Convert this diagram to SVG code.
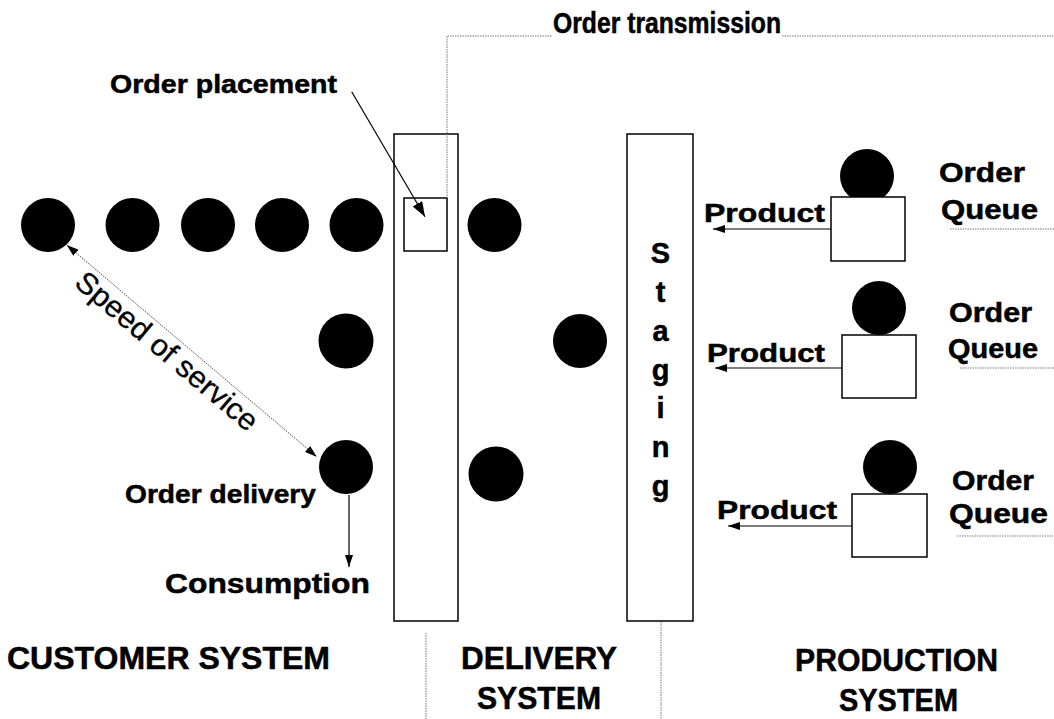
<svg xmlns="http://www.w3.org/2000/svg" width="1054" height="719" viewBox="0 0 1054 719">
<style>
.lbl{font-family:"Liberation Sans",Arial,sans-serif;font-weight:bold;fill:#000;stroke:#000;stroke-width:0.5}
.reg{font-family:"Liberation Sans",Arial,sans-serif;fill:#000;stroke:#000;stroke-width:0.3}
.dot{stroke:#777;stroke-width:1;stroke-dasharray:1.5 1;fill:none}
.box{fill:#fff;stroke:#000;stroke-width:1.5}
.ln{stroke:#000;stroke-width:1.2;fill:none}
.c{fill:#000}
</style>
<defs>
<marker id="ah" viewBox="0 0 12 8" refX="12" refY="4" markerWidth="12" markerHeight="8" markerUnits="userSpaceOnUse" orient="auto-start-reverse"><path d="M0,0 L12,4 L0,8 z" fill="#000"/></marker>
<marker id="ahb" viewBox="0 0 15 11" refX="15" refY="5.5" markerWidth="15" markerHeight="11" markerUnits="userSpaceOnUse" orient="auto"><path d="M0,0 L15,5.5 L0,11 z" fill="#000"/></marker>
</defs>
<rect width="1054" height="719" fill="#fff"/>

<g id="order-transmission"><text class="lbl" x="553" y="33" font-size="29" textLength="228" lengthAdjust="spacingAndGlyphs">Order transmission</text></g>
<g id="order-placement"><text class="lbl" x="110" y="93" font-size="25" textLength="227" lengthAdjust="spacingAndGlyphs">Order placement</text></g>

<g id="customers">
<circle class="c" cx="48" cy="225" r="27"/>
<circle class="c" cx="132.5" cy="225" r="27"/>
<circle class="c" cx="208" cy="225" r="27"/>
<circle class="c" cx="282" cy="225" r="27"/>
<circle class="c" cx="356.5" cy="225" r="27"/>
<circle class="c" cx="346" cy="341" r="27.5"/>
<circle class="c" cx="346" cy="467" r="27"/>
</g>

<g id="speed-of-service"><text class="reg" font-size="30" transform="translate(73,285) rotate(40.2)" textLength="229" lengthAdjust="spacingAndGlyphs">Speed of service</text></g>
<g id="order-delivery"><text class="lbl" x="125" y="503" font-size="26" textLength="191" lengthAdjust="spacingAndGlyphs">Order delivery</text></g>
<g id="consumption"><text class="lbl" x="165" y="593" font-size="28" textLength="205" lengthAdjust="spacingAndGlyphs">Consumption</text></g>

<g id="delivery">
<rect class="box" x="394" y="134" width="64" height="487"/>
<rect class="box" x="404" y="198" width="43" height="53"/>
<circle class="c" cx="494.5" cy="225" r="27"/>
<circle class="c" cx="580" cy="341" r="27"/>
<circle class="c" cx="496" cy="474" r="27.5"/>
</g>

<g id="staging">
<rect class="box" x="627" y="134" width="66" height="487"/>
<g class="lbl" font-size="29" text-anchor="middle">
<text x="660.5" y="263">S</text>
<text x="660.5" y="302">t</text>
<text x="660.5" y="341">a</text>
<text x="660.5" y="380">g</text>
<text x="660.5" y="418">i</text>
<text x="660.5" y="457">n</text>
<text x="660.5" y="496">g</text>
</g>
</g>

<g id="producer-1">
<circle class="c" cx="867" cy="176" r="27"/>
<rect class="box" x="831" y="197" width="74" height="64"/>
<text class="lbl" x="704" y="222" font-size="26" textLength="121" lengthAdjust="spacingAndGlyphs">Product</text>
<text class="lbl" x="939" y="182" font-size="27" textLength="86" lengthAdjust="spacingAndGlyphs">Order</text>
<text class="lbl" x="941" y="219" font-size="27" textLength="97" lengthAdjust="spacingAndGlyphs">Queue</text>
</g>
<g id="producer-2">
<circle class="c" cx="879" cy="308" r="27"/>
<rect class="box" x="842" y="335" width="74" height="63"/>
<text class="lbl" x="707" y="362" font-size="26" textLength="118" lengthAdjust="spacingAndGlyphs">Product</text>
<text class="lbl" x="949" y="322" font-size="27" textLength="83" lengthAdjust="spacingAndGlyphs">Order</text>
<text class="lbl" x="948" y="358" font-size="27" textLength="90" lengthAdjust="spacingAndGlyphs">Queue</text>
</g>
<g id="producer-3">
<circle class="c" cx="890" cy="467" r="27"/>
<rect class="box" x="852" y="494" width="75" height="63"/>
<text class="lbl" x="717" y="519" font-size="26" textLength="120" lengthAdjust="spacingAndGlyphs">Product</text>
<text class="lbl" x="952" y="490" font-size="27" textLength="82" lengthAdjust="spacingAndGlyphs">Order</text>
<text class="lbl" x="949" y="523" font-size="27" textLength="99" lengthAdjust="spacingAndGlyphs">Queue</text>
</g>

<g id="section-labels">
<text class="lbl" x="7" y="669" font-size="32" textLength="323" lengthAdjust="spacingAndGlyphs">CUSTOMER SYSTEM</text>
<text class="lbl" x="539" y="669" font-size="32" text-anchor="middle" textLength="156" lengthAdjust="spacingAndGlyphs">DELIVERY</text>
<text class="lbl" x="539" y="709" font-size="32" text-anchor="middle" textLength="124" lengthAdjust="spacingAndGlyphs">SYSTEM</text>
<text class="lbl" x="896.5" y="671" font-size="32" text-anchor="middle" textLength="203" lengthAdjust="spacingAndGlyphs">PRODUCTION</text>
<text class="lbl" x="898.5" y="711" font-size="32" text-anchor="middle" textLength="119" lengthAdjust="spacingAndGlyphs">SYSTEM</text>
</g>

<g id="connectors">
<path class="dot" d="M447,198 V36 H552 M782,36 H1054"/>
<path class="dot" d="M426,633 V719"/>
<path class="dot" d="M661,622 V719"/>
<path class="dot" d="M950,229 H1054 M960,368 H1054 M957,536 H1054"/>
<line class="dot" x1="66.7" y1="245" x2="316.7" y2="456.7" marker-start="url(#ah)" marker-end="url(#ah)" style="stroke:#555"/>
<line class="ln" x1="351.7" y1="91.7" x2="425" y2="216.7" stroke-width="1.5" marker-end="url(#ahb)"/>
<line class="ln" x1="349" y1="495" x2="349" y2="567" marker-end="url(#ah)"/>
<line class="ln" x1="831" y1="229" x2="713" y2="229" marker-end="url(#ah)"/>
<line class="ln" x1="842" y1="368" x2="715" y2="368" marker-end="url(#ah)"/>
<line class="ln" x1="852" y1="526" x2="728" y2="526" marker-end="url(#ah)"/>
</g>
</svg>
